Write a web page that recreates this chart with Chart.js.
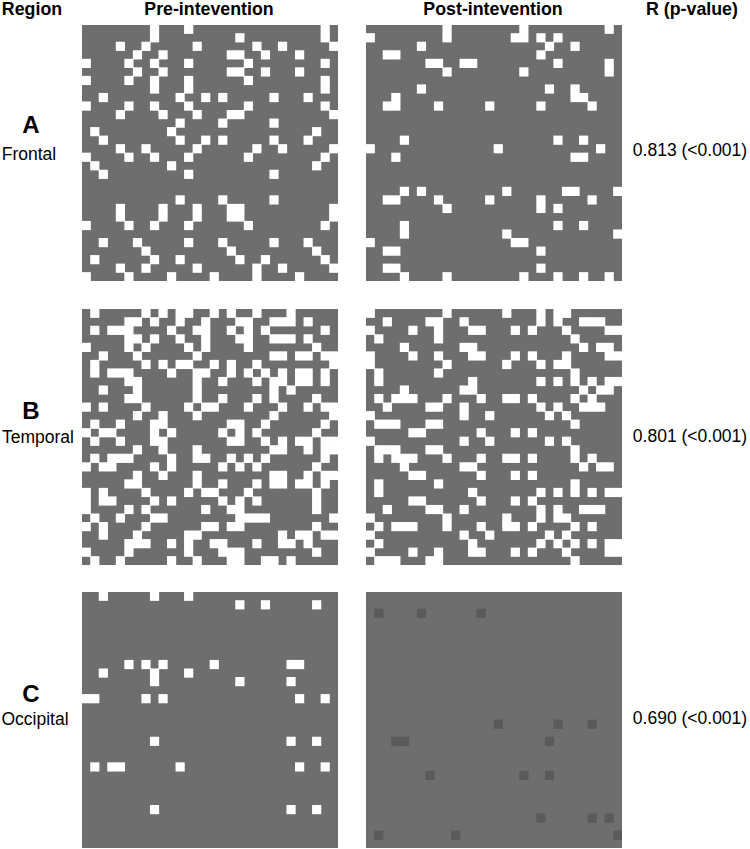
<!DOCTYPE html>
<html lang="en">
<head>
    <meta charset="UTF-8">
    <title>Pre and post intervention matrices</title>
    <script src="https://cdn.jsdelivr.net/npm/chart.js"></script>
    <style>
        body { margin: 0; background: #fff; font-family: "Liberation Sans", Arial, sans-serif; color: #000; }
        #page { position: relative; width: 750px; height: 849px; overflow: hidden; }
        .panel { position: absolute; width: 256px; height: 256px; background: #6e6e6e; }
        .label { position: absolute; white-space: nowrap; font-size: 17.5px; line-height: 20px; transform: translateX(-50%); }
        .head { font-weight: bold; font-size: 17.8px; }
        .letter { font-weight: bold; font-size: 24px; line-height: 28px; }
    </style>
</head>
<body>
<div id="page">
    <div class="label head" style="left:32px;top:-1px">Region</div>
    <div class="label head" style="left:209px;top:-1px">Pre-intevention</div>
    <div class="label head" style="left:493px;top:-1px">Post-intevention</div>
    <div class="label head" style="left:692px;top:-1px">R (p-value)</div>

    <div class="label letter" style="left:31px;top:111px">A</div>
    <div class="label" style="left:29px;top:144px">Frontal</div>
    <div class="label" style="left:690px;top:140px">0.813 (&lt;0.001)</div>

    <div class="label letter" style="left:31px;top:397px">B</div>
    <div class="label" style="left:38px;top:427px">Temporal</div>
    <div class="label" style="left:690px;top:426px">0.801 (&lt;0.001)</div>

    <div class="label letter" style="left:31px;top:680px">C</div>
    <div class="label" style="left:35px;top:709px">Occipital</div>
    <div class="label" style="left:690px;top:708px">0.690 (&lt;0.001)</div>

    <canvas class="panel" id="frontalPreChart" width="256" height="256" style="left:82px;top:25px"></canvas>
    <canvas class="panel" id="frontalPostChart" width="256" height="256" style="left:366px;top:25px"></canvas>
    <canvas class="panel" id="temporalPreChart" width="256" height="256" style="left:82px;top:309px"></canvas>
    <canvas class="panel" id="temporalPostChart" width="256" height="256" style="left:366px;top:309px"></canvas>
    <canvas class="panel" id="occipitalPreChart" width="256" height="256" style="left:82px;top:592px"></canvas>
    <canvas class="panel" id="occipitalPostChart" width="256" height="256" style="left:366px;top:592px"></canvas>
</div>

<script>
    // Each list holds one matrix row (top to bottom), the numbers are the columns that are marked
    const frontalPre = [
        [8,12,28], [8,18,28], [4,7,13,20,23,29], [6,9,17,18,21,25], [0,5,8,12,19,28],
        [6,9,17,18,21,25], [0,5,8,12,19,28], [8,12,28], [2,11,14,16,22,26], [0,5,8,12,19,28],
        [4,9,13,17,18,29], [11,16,22], [1,10,27], [2,11,14,16,22,26], [4,7,13,20,23,29],
        [0,5,8,12,19,28], [1,10,27], [2,12,22], [], [],
        [11,16,22], [4,9,13,17,18,29], [4,9,13,17,18,29], [0,5,8,12,19,28], [],
        [2,6,12,16,22,26], [7,17,27], [1,8,11,18,21,28], [4,7,13,20,23,29], [0,5,10,15,20,25]
    ];
    const frontalPost = [
        [9,18,28], [0,9,17,18,20,22], [6,21,24], [2,3,20], [7,8,11,12,22,28],
        [9,18,28], [], [6,21,24], [3,24,25], [2,3,8,14,20,26],
        [], [], [], [4,22,25], [0,15,27],
        [3,24,25], [], [], [], [4,6,16,23,24,29],
        [2,3,8,14,20,26], [9,20,22], [], [4,22,25], [4,16,29],
        [0,17,18], [2,3,20], [], [2,3,20], [4,9,18,22,25,28]
    ];
    const temporalPre = [
        [1,7,9,11,12,15,17,20,24], [5,6,8,11,14,18,19,22,23,24,26], [1,3,4,5,10,13,14,17,19,21,28],
        [5,6,8,11,14,18,19,22,23,24,26], [0,5,7,12,14,19,27], [2,6,13,22,23,25,26,28,29],
        [1,7,9,11,12,15,17,20,29], [1,3,4,5,10,13,14,17,19,21,23,25,26,28], [5,6,13,16,20,22,23,25,26,28],
        [2,6,13,22,24], [5,6,13,16,20,22,27], [0,2,7,12,14,15,19,23,26,28,29],
        [6,9,13,22,29], [1,4,8,9,17,18,21,28], [0,2,3,8,10,16,18,20,27],
        [1,4,8,9,17,18,21,23,25,26,28,29], [6,9,13,22,23,26,28,29], [1,3,4,5,10,13,14,17,19,21,28],
        [0,2,3,8,10,16,18,20,27], [6,9,13,22,23,26,28,29], [5,6,13,16,20,22,23,25,26,28],
        [0,2,7,12,14,15,19,27], [0,2,3,8,10,16,18,20,27], [0,5,7,14,17,18,27],
        [1,4,8,9,18,19,20,21,29], [0,2,7,14,15,17,18,27], [2,6,12,13,23,25,26,28,29],
        [5,6,7,10,12,15,16,20,23,24,26], [0,5,12,16,17,18,27], [1,4,10,13,17,18,21,22,24]
    ];
    const temporalPost = [
        [0,9,16,20,22,23], [2,7,8,11,20,22,25,26,27], [0,5,8,12,13,17,19,23,28,29],
        [1,8,24], [4,11,12,25,27,28], [0,5,8,12,13,17,19,23,28,29],
        [0,9,16,20,22,23], [1,8,24], [1,12,20,22,24,26,28,29],
        [4,11,12,25,27,28], [1,3,4,5,9,13,16,17,19,24,26], [2,7,8,11,20,22,25,26,27],
        [0,11,14,21,23], [1,2,3,7,8,24], [5,6,13,17,19],
        [0,11,14,21,23], [1,2,3,7,8,24], [1,3,4,5,9,13,16,17,19,24,26],
        [4,11,12,25,27,28], [5,6,13,17,19], [1,8,24],
        [1,12,20,22,24,26,28,29], [5,6,13,17,19], [2,7,8,11,20,22,25,26,27],
        [0,9,16,20,22,23], [1,3,4,5,9,13,16,17,19,24,26], [0,11,14,21,23],
        [1,12,20,22,24,26,28,29], [0,5,8,12,13,17,19,23,28,29], [1,2,3,7,8,24]
    ];
    const occipitalPre = [
        [2,8,12], [18,21,27], [], [], [], [], [], [],
        [5,7,9,15,24,25], [2,8,12], [8,18,24], [], [0,1,7,9,25,28], [], [], [], [],
        [8,24,27], [], [], [1,3,4,11,25,28], [], [], [], [],
        [8,24,27], [], [], [], []
    ];
    const occipitalPost = [
        [], [], [1,6,13], [], [], [], [], [], [], [], [], [], [], [], [],
        [15,22,26], [], [3,4,21], [], [], [], [7,18,21], [], [], [], [],
        [20,26,28], [], [1,10,29], []
    ];
    const columnLabels = ['0','1','2','3','4','5','6','7','8','9','10','11','12','13','14',
        '15','16','17','18','19','20','21','22','23','24','25','26','27','28','29'];

    // one floating bar per marked cell, spanning its row on the y scale
    function toCells(rows) {
        const cells = [];
        rows.forEach((cols, row) => {
            cols.forEach(col => cells.push({ x: columnLabels[col], y: [row, row + 1] }));
        });
        return cells;
    }

    function drawMatrix(id, rows, color) {
        new Chart(document.getElementById(id), {
            type: 'bar',
            data: {
                labels: columnLabels,
                datasets: [{
                    data: toCells(rows),
                    backgroundColor: color,
                    borderWidth: 0,
                    barPercentage: 1,
                    categoryPercentage: 1
                }]
            },
            options: {
                responsive: false,
                animation: false,
                layout: { padding: 0 },
                plugins: { legend: { display: false }, tooltip: { enabled: false } },
                scales: {
                    x: { display: false, ticks: { autoSkip: false } },
                    y: { display: false, reverse: true, min: 0, max: 30 }
                }
            }
        });
    }

    drawMatrix('frontalPreChart', frontalPre, '#ffffff');
    drawMatrix('frontalPostChart', frontalPost, '#ffffff');
    drawMatrix('temporalPreChart', temporalPre, '#ffffff');
    drawMatrix('temporalPostChart', temporalPost, '#ffffff');
    drawMatrix('occipitalPreChart', occipitalPre, '#ffffff');
    drawMatrix('occipitalPostChart', occipitalPost, '#5a5a5a');
</script>
</body>
</html>
